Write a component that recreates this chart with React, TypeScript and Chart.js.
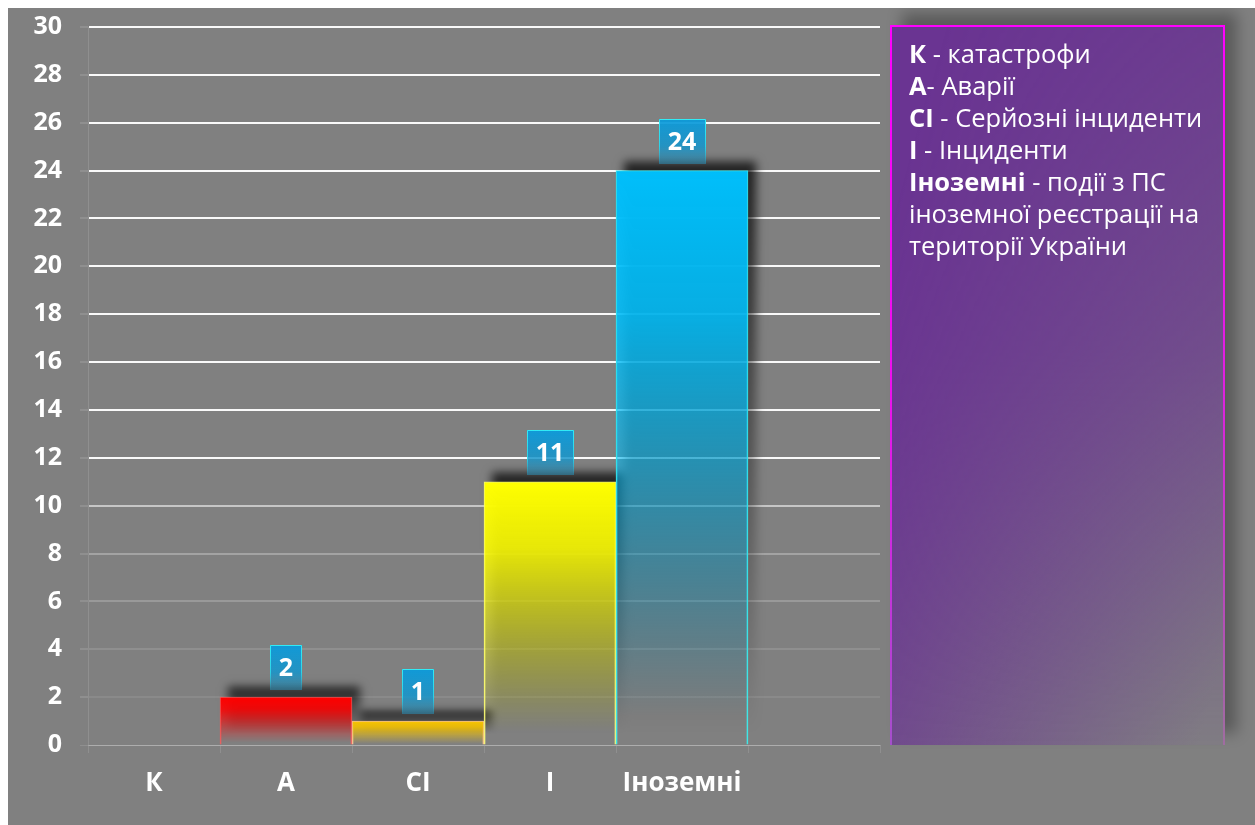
import React, { useEffect, useRef } from "react";
import { Chart, registerables } from "chart.js";

Chart.register(...registerables);

// ---- data ----
const categories = ["К", "А", "СІ", "І", "Іноземні", ""];
const values: (number | null)[] = [0, 2, 1, 11, 24, null];
const barTopColors = ["255,0,0", "255,0,0", "247,196,0", "255,255,0", "0,190,250", "128,128,128"];
const barEdgeColors = ["rgba(255,90,90,0.8)", "rgba(255,90,90,0.8)", "rgba(255,200,150,0.9)", "rgba(255,255,120,0.9)", "rgba(60,235,235,0.95)", "rgba(0,0,0,0)"];
const yMin = 0;
const yMax = 30;
const yStep = 2;
const legendLines: { bold: string; rest: string }[] = [
  { bold: "К", rest: " - катастрофи" },
  { bold: "А", rest: "- Аварії" },
  { bold: "СІ", rest: " - Серйозні інциденти" },
  { bold: "І", rest: " - Інциденти" },
  { bold: "Іноземні", rest: " - події з ПС" },
  { bold: "", rest: "іноземної реєстрації на" },
  { bold: "", rest: "території України" },
];

const FONT = "'Open Sans', 'Noto Sans', sans-serif";

function gridAlpha(v: number): number {
  if (v === 0) return 0.2;
  if (v >= 12) return 0.95;
  if (v === 10) return 0.55;
  if (v === 8) return 0.28;
  if (v === 6) return 0.2;
  if (v === 4) return 0.12;
  return 0.08;
}

// draws a soft shadow offset up-right behind every bar (only the shadow, not the shape)
const shadowPlugin = {
  id: "barShadow",
  beforeDatasetsDraw(chart: any) {
    const c = chart.ctx;
    const meta = chart.getDatasetMeta(0);
    const OFF = 5000;
    meta.data.forEach((el: any, i: number) => {
      const v = values[i];
      if (!v) return;
      const p = el.getProps(["x", "y", "base", "width"], true);
      const left = p.x - p.width / 2;
      const h = p.base - p.y;
      if (h <= 0) return;
      c.save();
      c.shadowColor = "rgba(0,0,0,0.75)";
      c.shadowBlur = 9;
      c.shadowOffsetX = OFF + 8;
      c.shadowOffsetY = -10;
      const g = c.createLinearGradient(0, p.y, 0, p.base);
      g.addColorStop(0, "rgba(0,0,0,1)");
      g.addColorStop(0.4, "rgba(0,0,0,0.55)");
      g.addColorStop(1, "rgba(0,0,0,0)");
      c.fillStyle = g;
      c.fillRect(left - OFF, p.y, p.width, h);
      c.restore();
    });
  },
};

const labelPlugin = {
  id: "valueBoxes",
  afterDraw(chart: any) {
    const c = chart.ctx;
    const meta = chart.getDatasetMeta(0);
    c.save();
    c.font = `bold 25px ${FONT}`;
    meta.data.forEach((el: any, i: number) => {
      const v = values[i];
      if (!v) return;
      const text = String(v);
      const tw = c.measureText(text).width;
      const w = Math.round(tw + 18);
      const h = 45;
      const x0 = Math.round(el.x - w / 2);
      const y1 = Math.round(el.y - 7);
      const y0 = y1 - h;
      const g = c.createLinearGradient(0, y0, 0, y1);
      g.addColorStop(0, "rgba(10,155,220,0.95)");
      g.addColorStop(0.6, "rgba(20,150,205,0.85)");
      g.addColorStop(1, "rgba(40,140,180,0.55)");
      c.fillStyle = g;
      c.fillRect(x0, y0, w, h);
      const sg = c.createLinearGradient(0, y0, 0, y1);
      sg.addColorStop(0, "rgba(50,235,245,1)");
      sg.addColorStop(0.6, "rgba(50,235,245,0.7)");
      sg.addColorStop(1, "rgba(50,235,245,0)");
      c.strokeStyle = sg;
      c.lineWidth = 1;
      c.beginPath();
      c.moveTo(x0 + 0.5, y1);
      c.lineTo(x0 + 0.5, y0 + 0.5);
      c.lineTo(x0 + w - 0.5, y0 + 0.5);
      c.lineTo(x0 + w - 0.5, y1);
      c.stroke();
      c.fillStyle = "#ffffff";
      c.textAlign = "center";
      c.textBaseline = "middle";
      c.fillText(text, el.x, y0 + h / 2 + 1);
    });
    c.restore();
  },
};

export default function App() {
  const canvasRef = useRef<HTMLCanvasElement | null>(null);

  useEffect(() => {
    if (!canvasRef.current) return;
    Chart.defaults.font.family = FONT;
    const chart = new Chart(canvasRef.current, {
      type: "bar",
      data: {
        labels: categories,
        datasets: [
          {
            data: values as any,
            barPercentage: 1,
            categoryPercentage: 1,
            backgroundColor: (ctx: any) => {
              const i = ctx.dataIndex;
              const rgb = barTopColors[i] || "128,128,128";
              const chart = ctx.chart;
              const ys = chart.scales && chart.scales.y;
              const v = values[i];
              if (!ys || v == null || !chart.chartArea) return `rgba(${rgb},1)`;
              const top = ys.getPixelForValue(v);
              const base = ys.getPixelForValue(0);
              if (!isFinite(top) || !isFinite(base) || base - top < 1) return `rgba(${rgb},1)`;
              const g = chart.ctx.createLinearGradient(0, top, 0, base);
              g.addColorStop(0, `rgba(${rgb},1)`);
              g.addColorStop(0.25, `rgba(${rgb},0.88)`);
              g.addColorStop(0.95, `rgba(${rgb},0)`);
              g.addColorStop(1, `rgba(${rgb},0)`);
              return g;
            },
            borderColor: barEdgeColors,
            borderWidth: { top: 1, left: 1, right: 1, bottom: 0 } as any,
            borderSkipped: false,
          },
        ],
      },
      options: {
        animation: false,
        responsive: true,
        maintainAspectRatio: false,
        layout: { padding: { top: 19, right: 375, bottom: 20, left: 0 } },
        plugins: {
          legend: { display: false },
          tooltip: { enabled: false },
          title: { display: false },
        },
        scales: {
          x: {
            ticks: { color: "#ffffff", font: { size: 26, weight: "bold" }, padding: 15 },
            grid: {
              drawOnChartArea: false,
              drawTicks: true,
              tickLength: 8,
              color: "rgba(255,255,255,0.12)",
            },
            border: { color: "rgba(255,255,255,0.2)", width: 1 },
            afterFit: (s: any) => {
              s.height = 60;
            },
          },
          y: {
            min: yMin,
            max: yMax,
            ticks: {
              stepSize: yStep,
              color: "#ffffff",
              font: { size: 25, weight: "bold" },
              padding: 18,
            },
            grid: {
              color: (c: any) => `rgba(255,255,255,${gridAlpha(c.tick ? c.tick.value : 0)})`,
              lineWidth: (c: any) => (c.tick && c.tick.value === 0 ? 1 : 2),
              tickColor: "rgba(255,255,255,0.12)",
              tickLength: 8,
            },
            border: { color: "rgba(255,255,255,0.12)", width: 1 },
            afterFit: (s: any) => {
              s.width = 80;
              s.paddingTop = 0;
              s.paddingBottom = 0;
            },
          },
        },
      },
      plugins: [shadowPlugin, labelPlugin],
    } as any);
    return () => chart.destroy();
  }, []);

  return (
    <div
      style={{
        position: "fixed",
        left: 8,
        top: 8,
        width: 1247,
        height: 817,
        background: "#808080",
        overflow: "hidden",
      }}
    >
      <div style={{ position: "absolute", left: 0, top: 0, width: 1247, height: 817 }}>
        <canvas ref={canvasRef} />
      </div>
      <div
        style={{
          position: "absolute",
          left: 882,
          top: 17,
          width: 335,
          height: 720,
          boxSizing: "border-box",
          background: "#6a3492",
          boxShadow: "12px -12px 14px rgba(0,0,0,0.3)",
          overflow: "hidden",
        }}
      >
        <div
          style={{
            position: "absolute",
            inset: 0,
            background: "linear-gradient(105deg, rgba(128,128,128,0) 10%, rgba(128,126,130,0.97) 95%)",
            WebkitMaskImage: "linear-gradient(to bottom, rgba(0,0,0,0.2) 0%, rgba(0,0,0,0.45) 45%, rgba(0,0,0,1) 100%)",
            maskImage: "linear-gradient(to bottom, rgba(0,0,0,0.2) 0%, rgba(0,0,0,0.45) 45%, rgba(0,0,0,1) 100%)",
          } as any}
        />
        <div style={{ position: "absolute", left: 0, top: 0, right: 0, height: 2, background: "#ff00ff" }} />
        <div
          style={{
            position: "absolute",
            left: 0,
            top: 0,
            bottom: 0,
            width: 2,
            background: "linear-gradient(to bottom, #ff00ff 0%, #ee10ee 50%, rgba(170,80,210,0.9) 100%)",
          }}
        />
        <div
          style={{
            position: "absolute",
            right: 0,
            top: 0,
            bottom: 0,
            width: 2,
            background: "linear-gradient(to bottom, #ff00ff 0%, #e020e0 50%, rgba(180,100,180,0.6) 100%)",
          }}
        />
        <div
          style={{
            position: "absolute",
            left: 19,
            top: 12,
            right: 0,
            color: "#ffffff",
            fontFamily: FONT,
            fontSize: 25.5,
            lineHeight: "32px",
            whiteSpace: "nowrap",
          }}
        >
          {legendLines.map((l, i) => (
            <div key={i}>
              {l.bold ? <b>{l.bold}</b> : null}
              {l.rest}
            </div>
          ))}
        </div>
      </div>
    </div>
  );
}
